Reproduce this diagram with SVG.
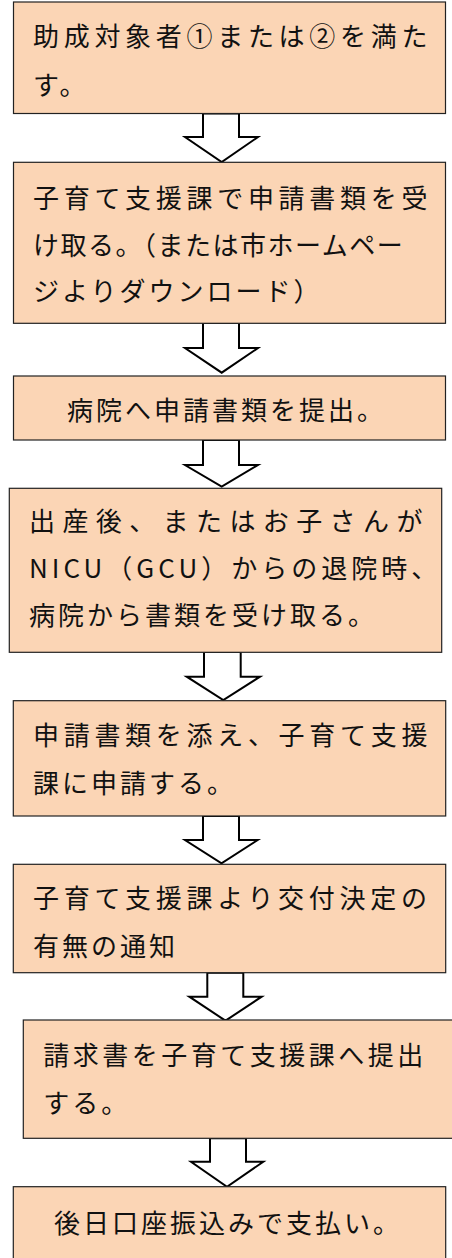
<svg xmlns="http://www.w3.org/2000/svg" width="452" height="1258" viewBox="0 0 452 1258">
<style>
  .box { fill: #FBD5B5; stroke: #222; stroke-width: 1.2; }
  .arrow { fill: #fff; stroke: #000; stroke-width: 2; stroke-linejoin: miter; }
  .t { font-family: "Noto Sans CJK JP", "Noto Sans CJK SC", sans-serif; font-size: 26px; fill: #111; letter-spacing: 3px; }
</style>
<rect width="452" height="1258" fill="#fff"/>
<g id="connectors">
  <polygon class="arrow" points="203,113.5 239,113.5 239,137 258,137 221.7,162 185,137 203,137"/>
  <polygon class="arrow" points="203,323 239,323 239,348 258,348 221.7,372.7 185,348 203,348"/>
  <polygon class="arrow" points="203,440 239,440 239,465 258,465 221.7,486.7 185,465 203,465"/>
  <polygon class="arrow" points="204,652 240.7,652 240.7,676.7 260,676.7 223.3,700 186.7,676.7 204,676.7"/>
  <polygon class="arrow" points="203,816 239,816 239,840 257.7,840 221.5,863.3 185,840 203,840"/>
  <polygon class="arrow" points="207.3,972.7 243.3,972.7 243.3,996.7 261.7,996.7 225.5,1020.7 189.3,996.7 207.3,996.7"/>
  <polygon class="arrow" points="210,1138.3 246,1138.3 246,1161.7 263.3,1161.7 227,1186.7 191,1161.7 210,1161.7"/>
</g>
<g id="node1">
  <rect class="box" x="13.5" y="2" width="432" height="111.5"/>
  <text class="t" x="33" y="46" style="letter-spacing:4.7px">助成対象者①または②を満た</text>
  <text class="t" x="33" y="95">す。</text>
</g>
<g id="node2">
  <rect class="box" x="13.5" y="162.3" width="432" height="161"/>
  <text class="t" x="33" y="208" style="letter-spacing:4.7px">子育て支援課で申請書類を受</text>
  <text class="t" x="33" y="255" style="letter-spacing:1.5px">け取る。（または市ホームペー</text>
  <text class="t" x="33" y="301">ジよりダウンロード）</text>
</g>
<g id="node3">
  <rect class="box" x="13.5" y="376" width="432" height="64"/>
  <text class="t" x="67" y="420">病院へ申請書類を提出。</text>
</g>
<g id="node4">
  <rect class="box" x="9.3" y="488.3" width="432.4" height="164"/>
  <text class="t" x="29" y="531" style="letter-spacing:7.4px">出産後、またはお子さんが</text>
  <text class="t" x="29" y="578" style="letter-spacing:4px">NICU（GCU）からの退院時、</text>
  <text class="t" x="29" y="625">病院から書類を受け取る。</text>
</g>
<g id="node5">
  <rect class="box" x="13.3" y="700.7" width="432.4" height="115.3"/>
  <text class="t" x="33" y="745" style="letter-spacing:4.7px">申請書類を添え、子育て支援</text>
  <text class="t" x="33" y="793">課に申請する。</text>
</g>
<g id="node6">
  <rect class="box" x="13.3" y="864.3" width="432.4" height="108.4"/>
  <text class="t" x="33" y="908" style="letter-spacing:4.7px">子育て支援課より交付決定の</text>
  <text class="t" x="33" y="956">有無の通知</text>
</g>
<g id="node7">
  <rect class="box" x="23.3" y="1020" width="440" height="118.3"/>
  <text class="t" x="43.3" y="1065" style="letter-spacing:3.5px">請求書を子育て支援課へ提出</text>
  <text class="t" x="43.3" y="1113">する。</text>
</g>
<g id="node8">
  <rect class="box" x="13.3" y="1186.7" width="432.4" height="80"/>
  <text class="t" x="54" y="1233">後日口座振込みで支払い。</text>
</g>
</svg>
